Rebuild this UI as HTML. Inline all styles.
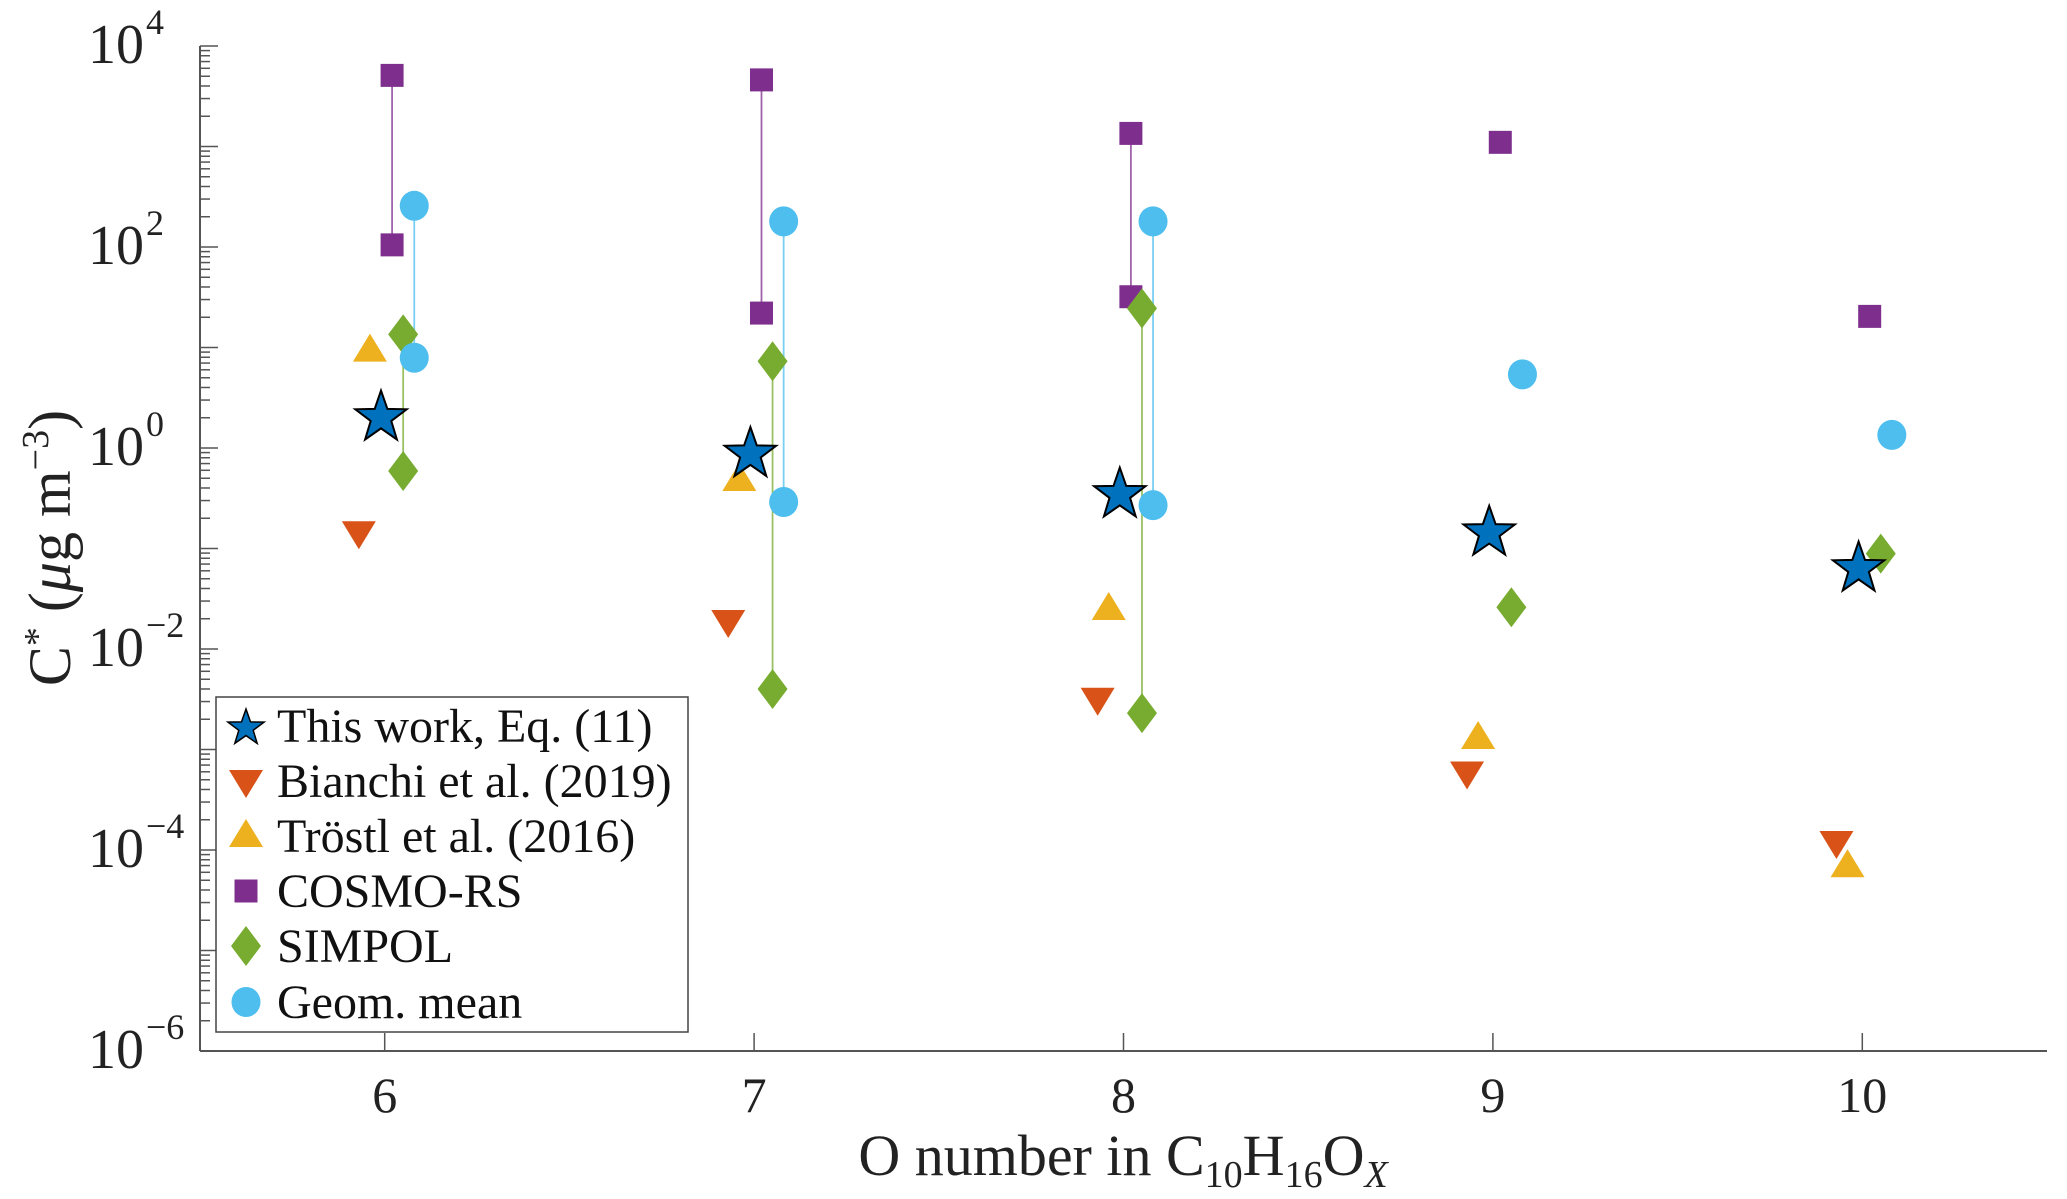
<!DOCTYPE html>
<html><head><meta charset="utf-8"><style>
html,body{margin:0;padding:0;background:#fff;}
svg{display:block;font-family:"Liberation Serif",serif;}
</style></head><body>
<svg id="chart" width="2067" height="1199" viewBox="0 0 2067 1199">
<g id="axes"></g>
<g id="marks"></g>
<g id="legend"></g>
</svg>
<script>
const categories = [6, 7, 8, 9, 10];
const thisWork = [2.1, 0.91, 0.36, 0.15, 0.066];
const bianchi = [0.145, 0.019, 0.0032, 0.00059, 0.00012];
const trostl = [9.3, 0.48, 0.025, 0.0013, 0.000069];
const cosmoHi = [5100, 4600, 1350, 1100, 20.4];
const cosmoLo = [105, 22, 32, null, null];
const simpolHi = [13.5, 7.3, 24.5, 0.026, 0.089];
const simpolLo = [0.59, 0.004, 0.0023, null, null];
const geomHi = [257, 180, 180, 5.4, 1.35];
const geomLo = [7.9, 0.29, 0.27, null, null];
const yTickExps = [4, 2, 0, -2, -4, -6];
const xTickLabels = ["6", "7", "8", "9", "10"];

const NS = "http://www.w3.org/2000/svg";
const L = 200, R = 2047, T = 46, B = 1051;
const xMin = 5.5, xMax = 10.5, yMin = -6, yMax = 4;
function xs(v){ return L + (v - xMin) / (xMax - xMin) * (R - L); }
function ys(v){ return B - (Math.log10(v) - yMin) / (yMax - yMin) * (B - T); }
function ysExp(e){ return B - (e - yMin) / (yMax - yMin) * (B - T); }
function mk(tag, attrs, parent){
  const el = document.createElementNS(NS, tag);
  for (const k in attrs) el.setAttribute(k, attrs[k]);
  parent.appendChild(el);
  return el;
}
const axes = document.getElementById('axes');
const marks = document.getElementById('marks');
const legend = document.getElementById('legend');

let yl = mk('line', {x1:L, y1:T, x2:L, y2:B, stroke:'#555', 'stroke-width':2}, axes);


let xl = mk('line', {x1:L, y1:B, x2:R, y2:B, stroke:'#555', 'stroke-width':2}, axes);



for (let e = yMin; e < yMax; e++) {
  for (let m = 1; m < 10; m++) {
    const y = ys(m * Math.pow(10, e));
    const len = m === 1 ? 18 : 10;
    const t = mk('line', {x1:L, y1:y, x2:L+len, y2:y, stroke:'#555', 'stroke-width':1.5}, axes);
    
    
  }
}
mk('line', {x1:L, y1:T, x2:L+18, y2:T, stroke:'#555', 'stroke-width':1.5}, axes);
yTickExps.forEach(e => {
  const y = ysExp(e);
  const tx = mk('text', {x:144, y:y+17, 'font-size':56, 'text-anchor':'end', fill:'#222'}, axes);
  tx.textContent = '10';
  
  
  const sp = mk('text', {x:146, y:y-12, 'font-size':36, 'text-anchor':'start', fill:'#222'}, axes);
  sp.textContent = e < 0 ? '\u2212' + Math.abs(e) : String(e);
  
  
});
categories.forEach((c, i) => {
  const x = xs(c);
  const t = mk('line', {x1:x, y1:B, x2:x, y2:B-18, stroke:'#555', 'stroke-width':1.5}, axes);
  
  
  const tx = mk('text', {x:x, y:1112, 'font-size':50, 'text-anchor':'middle', fill:'#222'}, axes);
  tx.textContent = xTickLabels[i];
  
  
});
const xt = mk('text', {x:1123, y:1175, 'font-size':58, 'text-anchor':'middle', fill:'#222'}, axes);
xt.innerHTML = 'O number in C<tspan font-size="38" dy="12">10</tspan><tspan dy="-12">H</tspan><tspan font-size="38" dy="12">16</tspan><tspan dy="-12">O</tspan><tspan font-size="38" dy="12" font-style="italic">X</tspan>';


const ytt = mk('text', {x:0, y:0, 'font-size':60, 'text-anchor':'middle', fill:'#222', transform:'translate(70,548) rotate(-90)'}, axes);
ytt.innerHTML = 'C<tspan font-size="38" dy="-20">*</tspan><tspan dy="20"> (</tspan><tspan font-style="italic">μ</tspan>g m<tspan font-size="38" dy="-22">−3</tspan><tspan dy="22">)</tspan>';



const colors = {star:'#0072BD', bianchi:'#D95319', trostl:'#EDB120', cosmo:'#7E2F8E', simpol:'#77AC30', geom:'#4DBEEE'};
const offsets = {star:-0.01, bianchi:-0.07, trostl:-0.04, cosmo:0.02, simpol:0.05, geom:0.08};

function starPts(cx, cy, ro, ri){
  const p = [];
  for (let k = 0; k < 10; k++) {
    const r = k % 2 ? ri : ro;
    const a = -Math.PI/2 + k * Math.PI/5;
    p.push((cx + r*Math.cos(a)).toFixed(1) + ',' + (cy + r*Math.sin(a)).toFixed(1));
  }
  return p.join(' ');
}
function drawMarker(type, x, y, parent, small){
  let el;
  if (type === 'star') { const r = small ? 19 : 27; el = mk('polygon', {points:starPts(x, y+2, r, r*0.4), fill:colors.star, stroke:'#000', 'stroke-width':small?1.5:2}, parent); }
  else if (type === 'bianchi') el = mk('polygon', {points:`${x-17},${y-11} ${x+17},${y-11} ${x},${y+17}`, fill:colors.bianchi}, parent);
  else if (type === 'trostl') el = mk('polygon', {points:`${x-17},${y+11} ${x+17},${y+11} ${x},${y-17}`, fill:colors.trostl}, parent);
  else if (type === 'cosmo') el = mk('rect', {x:x-11.5, y:y-11.5, width:23, height:23, fill:colors.cosmo}, parent);
  else if (type === 'simpol') el = mk('polygon', {points:`${x},${y-20} ${x+15},${y} ${x},${y+20} ${x-15},${y}`, fill:colors.simpol}, parent);
  else el = mk('ellipse', {cx:x, cy:y, rx:14.5, ry:15, fill:colors.geom}, parent);
  return el;
}
function rangeLine(type, hi, lo){
  categories.forEach((c, i) => {
    if (lo[i] == null) return;
    const x = xs(c + offsets[type]);
    const ln = mk('line', {x1:x, y1:ys(hi[i]), x2:x, y2:ys(lo[i]), stroke:colors[type], 'stroke-width':1.8, opacity:0.75}, marks);
    
    
  });
}
rangeLine('cosmo', cosmoHi, cosmoLo);
rangeLine('simpol', simpolHi, simpolLo);
rangeLine('geom', geomHi, geomLo);

function series(type, arr, name){
  categories.forEach((c, i) => {
    if (arr[i] == null) return;
    const m = drawMarker(type, xs(c + offsets[type]), ys(arr[i]), marks, false);
    
    
  });
}
series('trostl', trostl, 'trostl');
series('bianchi', bianchi, 'bianchi');
series('cosmo', cosmoHi, 'cosmo-rs-high');
series('cosmo', cosmoLo, 'cosmo-rs-low');
series('simpol', simpolHi, 'simpol-high');
series('simpol', simpolLo, 'simpol-low');
series('geom', geomHi, 'geom-mean-high');
series('geom', geomLo, 'geom-mean-low');
series('star', thisWork, 'this-work');

const box = mk('rect', {x:216, y:697, width:472, height:335, fill:'#fff', stroke:'#444', 'stroke-width':1.5}, legend);


const entries = [['star','This work, Eq. (11)'],['bianchi','Bianchi et al. (2019)'],['trostl','Tröstl et al. (2016)'],['cosmo','COSMO-RS'],['simpol','SIMPOL'],['geom','Geom. mean']];
const ly = [726, 781, 836, 891, 946, 1002];
entries.forEach((e, i) => {
  const g = mk('g', {}, legend);
  
  
  drawMarker(e[0], 246, ly[i], g, true);
  const t = mk('text', {x:277, y:ly[i]+16, 'font-size':48, fill:'#111', textLength:'', }, g);
  t.removeAttribute('textLength');
  t.textContent = e[1];
  
  
});
</script>
</body></html>
